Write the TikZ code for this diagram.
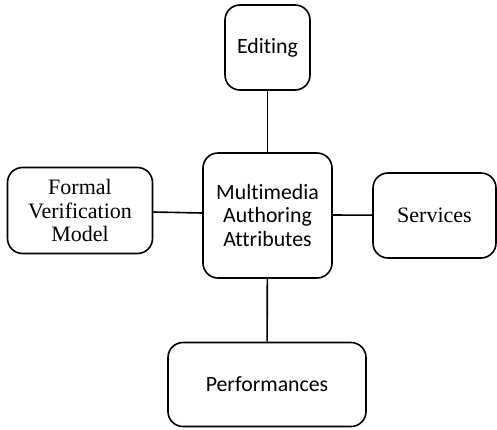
\documentclass[tikz,border=0pt]{standalone}
\usepackage{fontspec}
\usepackage{xcolor}
\usepackage{tikz}
\newfontfamily\calfont[Ligatures=NoCommon]{Carlito}
\newfontfamily\timesfont{Liberation Serif}

\begin{document}
\begin{tikzpicture}[x=1pt,y=-1pt,
      attr/.style={rectangle,draw,line width=1.6pt,rounded corners=15pt,align=center,inner sep=0pt},
      sans/.style={font=\calfont\fontsize{21.8}{23.5}\selectfont},
      serif/.style={font=\timesfont\fontsize{22}{23.5}\selectfont},
      link/.style={line width=1.6pt}]
      \useasboundingbox (0,0) rectangle (497,429);
      \node[attr,sans,minimum width=85pt,minimum height=85pt] (edit) at (267.5,47.5) {Editing};
      \node[attr,sans,minimum width=129pt,minimum height=125pt] (core) at (267.5,215.5) {Multimedia\\Authoring\\Attributes};
      \node[attr,serif,minimum width=145pt,minimum height=86pt] (formal) at (80,210.5) {Formal\\Verification\\Model};
      \node[attr,serif,minimum width=123pt,minimum height=85pt] (serv) at (434.5,215.5) {Services};
      \node[attr,sans,minimum width=198pt,minimum height=84pt] (perf) at (267,384.5) {Performances};
      % spokes from the centre box
      \draw[link] (edit) -- (core);
      \draw[link] (formal.east |- 0,212) -- (core.west |- 0,213);
      \draw[link] (core.east |- 0,215) -- (serv);
      \draw[link] (core) -- (perf);
    \end{tikzpicture}
\end{document}
